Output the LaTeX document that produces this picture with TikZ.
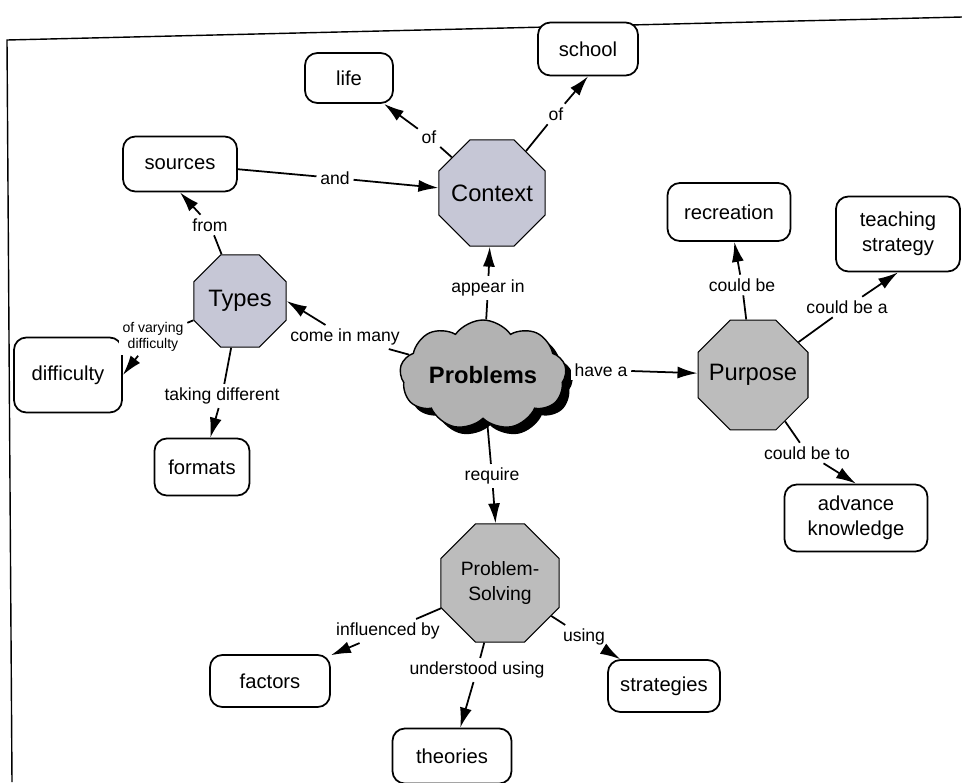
\documentclass[tikz,border=0pt]{standalone}
\usepackage{fontspec}
\setmainfont{Liberation Sans}
\usetikzlibrary{shapes,shapes.symbols,arrows.meta,shadows}
\definecolor{bluegray}{RGB}{198,199,214}
\definecolor{midgray}{RGB}{188,188,188}
\definecolor{cloudgray}{RGB}{178,178,178}
\tikzstyle{concept} = [rectangle, draw, fill=white, line width=1pt,
    rounded corners=7pt, align=center, font=\fontsize{11.5}{14}\selectfont]
\tikzstyle{octa} = [regular polygon, regular polygon sides=8,
    draw, fill=bluegray, line width=0.6pt, align=center, inner sep=-6pt,
    font=\fontsize{13.5}{16}\selectfont]
\tikzstyle{greyocta} = [octa, fill=midgray]
\tikzstyle{puffy} = [cloud, draw, fill=cloudgray, line width=0.8pt, cloud puffs=9,
    cloud puff arc=110, cloud ignores aspect, drop shadow={shadow xshift=4pt,
    shadow yshift=-4pt, fill=black, opacity=1}, font=\bfseries\fontsize{13.5}{16}\selectfont]
\tikzstyle{lbl} = [fill=white, inner sep=2pt, align=center, font=\fontsize{10}{12}\selectfont]
\tikzstyle{link} = [draw, line width=1pt]
\tikzstyle{line} = [draw, line width=1pt, -{Latex[length=4mm,width=2.4mm]}]

\begin{document}
\begin{tikzpicture}[x=0.02cm, y=-0.02cm]
    \useasboundingbox (0,0) rectangle (962,782);
    \draw[line width=0.8pt] (962,17) -- (7,40) -- (12,782);
    % Place nodes
    \node [puffy, minimum width=3.2cm, minimum height=2.2cm] (Problems) at (483,375) {Problems};
    \node [octa, minimum size=2.3cm] (Context) at (492,193) {Context};
    \node [octa, minimum size=2cm] (Types) at (240,301) {Types};
    \node [greyocta, minimum size=2.38cm] (Purpose) at (753,375) {Purpose};
    \node [greyocta, minimum size=2.56cm, font=\fontsize{11}{14}\selectfont] (Solving) at (500,583) {Problem-\\Solving};
    \node [concept, minimum width=1.76cm, minimum height=1cm] (Life) at (349,78) {life};
    \node [concept, minimum width=2cm, minimum height=1.06cm] (School) at (588,49) {school};
    \node [concept, minimum width=2.28cm, minimum height=1.1cm] (Sources) at (180,164) {sources};
    \node [concept, minimum width=2.16cm, minimum height=1.5cm] (Difficulty) at (68,375) {difficulty};
    \node [concept, minimum width=1.9cm, minimum height=1.14cm] (Formats) at (202,467) {formats};
    \node [concept, minimum width=2.46cm, minimum height=1.16cm] (Recreation) at (729,212) {recreation};
    \node [concept, minimum width=2.48cm, minimum height=1.5cm] (Teaching) at (898,234) {teaching\\strategy};
    \node [concept, minimum width=2.86cm, minimum height=1.34cm] (Knowledge) at (856,518) {advance\\knowledge};
    \node [concept, minimum width=2.4cm, minimum height=1.04cm] (Factors) at (270,681) {factors};
    \node [concept, minimum width=2.24cm, minimum height=1.04cm] (Strategies) at (664,686) {strategies};
    \node [concept, minimum width=2.38cm, minimum height=1.1cm] (Theories) at (452,756) {theories};
    % Link labels
    \node [lbl] (OfLife) at (429,137) {of};
    \node [lbl] (OfSchool) at (556,114) {of};
    \node [lbl] (And) at (335,178) {and};
    \node [lbl] (From) at (210,225) {from};
    \node [lbl, font=\fontsize{8}{9.5}\selectfont] (Varying) at (153,337) {of varying\\difficulty};
    \node [lbl] (Taking) at (222,396) {taking different};
    \node [lbl] (Many) at (345,337) {come in many};
    \node [lbl] (Appear) at (488,288) {appear in};
    \node [lbl] (HaveA) at (601,370) {have a};
    \node [lbl] (CouldBe) at (742,285) {could be};
    \node [lbl] (CouldBeA) at (847,307) {could be a};
    \node [lbl] (CouldBeTo) at (807,453) {could be to};
    \node [lbl] (Require) at (492,476) {require};
    \node [lbl] (Influenced) at (388,631) {influenced by};
    \node [lbl] (Understood) at (477,670) {understood using};
    \node [lbl] (Using) at (584,637) {using};
    % Draw edges
    \path [link] (Context) -- (OfLife);
    \path [line] (OfLife) -- (Life);
    \path [link] (Context) -- (OfSchool);
    \path [line] (OfSchool) -- (School.south);
    \path [link] (Sources) -- (And);
    \path [line] (And) -- (Context);
    \path [link] (Types) -- (From);
    \path [line] (From) -- (Sources.south);
    \path [link] (Types) -- (Varying);
    \path [line] (Varying) -- (Difficulty.east);
    \path [link] (Types) -- (Taking);
    \path [line] (Taking) -- (Formats);
    \path [link] (Problems) -- (Many);
    \path [line] (Many) -- (Types.east);
    \path [link] (Problems) -- (Appear);
    \path [line] (Appear) -- (Context);
    \path [link] (Problems) -- (HaveA);
    \path [line] (HaveA) -- (Purpose);
    \path [link] (Purpose) -- (CouldBe);
    \path [line] (CouldBe) -- (Recreation);
    \path [link] (Purpose) -- (CouldBeA);
    \path [line] (CouldBeA) -- (Teaching.south);
    \path [link] (Purpose) -- (CouldBeTo);
    \path [line] (CouldBeTo) -- (Knowledge.north);
    \path [link] (Problems) -- (Require);
    \path [line] (Require) -- (Solving);
    \path [link] (Solving) -- (Influenced);
    \path [line] (Influenced) -- (Factors);
    \path [link] (Solving) -- (Understood);
    \path [line] (Understood) -- (Theories);
    \path [link] (Solving) -- (Using);
    \path [line] (Using) -- (Strategies);
\end{tikzpicture}
\end{document}
